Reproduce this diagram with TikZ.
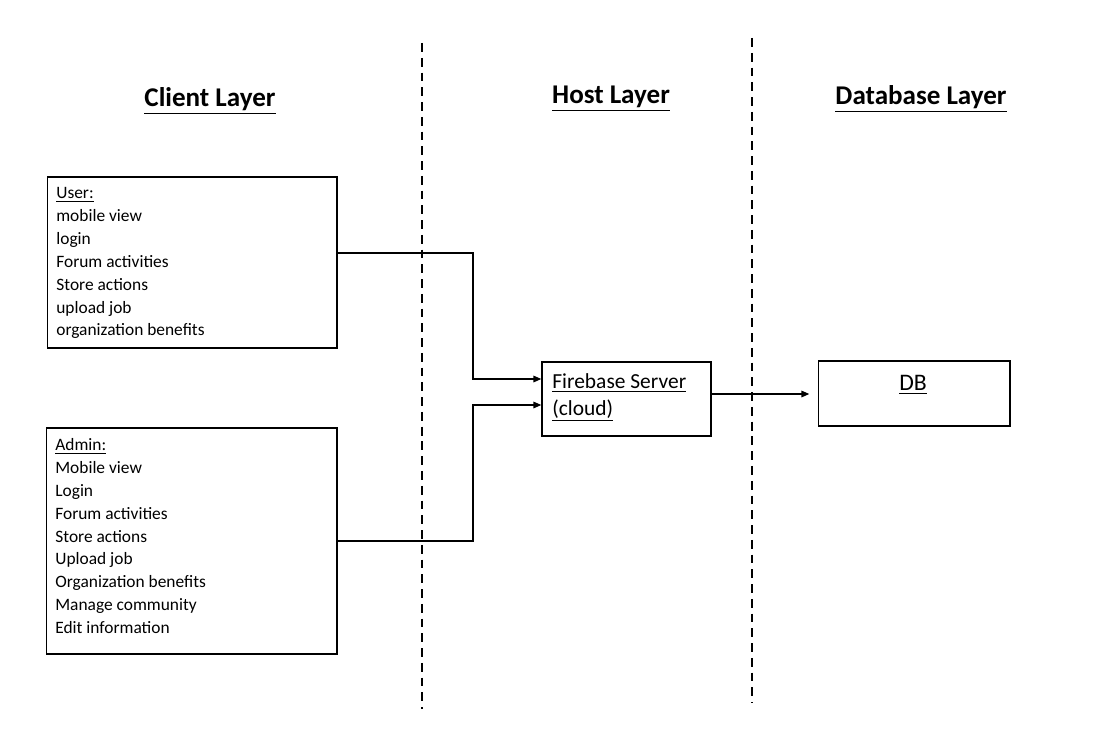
\documentclass[tikz,border=0pt]{standalone}
\usepackage{fontspec}
\setmainfont{Carlito}
\usetikzlibrary{arrows.meta}

\begin{document}
\begin{tikzpicture}[x=0.02cm,y=-0.02cm,
    box/.style={draw,line width=0.6pt,inner sep=0pt},
    boxtext/.style={anchor=north west,inner sep=0pt,align=left,
      font=\fontsize{9.9}{13.04}\selectfont},
    heading/.style={font=\fontsize{15.4}{18}\selectfont\bfseries},
    link/.style={line width=1.1pt,-{Triangle[length=4.6pt,width=3.6pt]}},
    divider/.style={line width=1.1pt,dash pattern=on 5pt off 3.4pt}]

        \useasboundingbox (0,0) rectangle (1098,743);

        % layer dividers
        \draw[divider] (422,43) -- (422,709);
        \draw[divider] (752,38) -- (752,703);

        \begin{scope}[every node/.style={heading}]
          \node (client) at (210,101) {\underline{Client Layer}};
          \node (host)   at (611,99) {\underline{Host Layer}};
          \node (data)   at (921,99) {\underline{Database Layer}};
        \end{scope}

        \begin{scope}[every node/.style={box}]
          \node[minimum width=5.8cm, minimum height=3.42cm] (user)  at (192,262.5) {};
          \node[minimum width=5.82cm,minimum height=4.52cm] (admin) at (191.5,541) {};
          \node[minimum width=3.38cm,minimum height=1.48cm] (fb)    at (626.5,399) {};
          \node[minimum width=3.84cm,minimum height=1.3cm]  (db)    at (914,393.5) {};
        \end{scope}

        \begin{scope}[every node/.style={boxtext}]
          \node (usertext) at (56,187) {\underline{User:}\\mobile view\\login\\Forum activities\\Store actions\\upload job\\organization benefits};
          \node (admintext) at (55,438) {\underline{Admin:}\\Mobile view\\Login\\Forum activities\\Store actions\\Upload job\\Organization benefits\\Manage community\\Edit information};
          \node[font=\fontsize{12.2}{15.3}\selectfont] (fbtext) at (552,373) {\underline{Firebase Server}\\\underline{(cloud)}};
        \end{scope}
        \node[font=\fontsize{13.5}{16}\selectfont] (dbtext) at (913,385) {\underline{DB}};

        \draw[link] ([yshift=0.19cm]user.east) -- (473,253) |- ([yshift=0.4cm]fb.west);
        \draw[link] (admin.east) -- (473,541) |- ([yshift=-0.12cm]fb.west);
        \draw[link] ([yshift=0.1cm]fb.east) -- ([xshift=-0.16cm,yshift=0.1cm]fb.east -| db.west);

      \end{tikzpicture}
\end{document}
